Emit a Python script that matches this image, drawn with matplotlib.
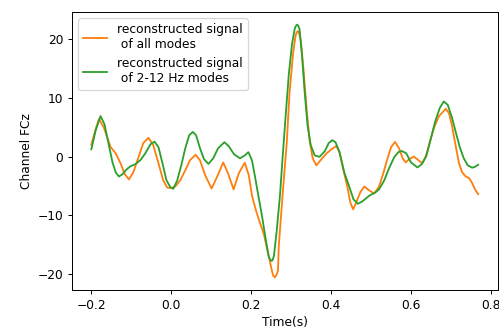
import matplotlib
matplotlib.use("Agg")
import matplotlib.pyplot as plt

# time axis (s) and signal values
t_all = [-0.200, -0.190, -0.181, -0.169, -0.152, -0.139, -0.127, -0.117, -0.106, -0.095,
         -0.082, -0.070, -0.057, -0.045, -0.032, -0.020, -0.010, 0.000, 0.010, 0.022,
         0.035, 0.047, 0.061, 0.072, 0.085, 0.101, 0.115, 0.130, 0.142, 0.156,
         0.169, 0.184, 0.194, 0.202, 0.212, 0.222, 0.232, 0.242, 0.252, 0.255, 0.259,
         0.263, 0.267, 0.269, 0.280, 0.289, 0.296, 0.305, 0.311, 0.314, 0.317, 0.320, 0.324, 0.331,
         0.339, 0.346, 0.354, 0.363, 0.374, 0.388, 0.401, 0.413, 0.421, 0.431,
         0.441, 0.448, 0.455, 0.463, 0.473, 0.483, 0.496, 0.508, 0.520, 0.530,
         0.540, 0.550, 0.560, 0.570, 0.579, 0.587, 0.595, 0.607, 0.618, 0.628,
         0.638, 0.648, 0.658, 0.670, 0.687, 0.695, 0.702, 0.712, 0.720, 0.728,
         0.737, 0.745, 0.752, 0.760, 0.768]
all_modes = [2.0, 4.5, 6.4, 5.0, 1.65, 0.55, -1.15, -2.9, -3.9, -2.7,
             -0.1, 2.3, 3.2, 1.95, -1.15, -4.1, -5.3, -5.35, -5.1, -4.1,
             -2.35, -0.6, 0.3, -0.65, -3.2, -5.45, -3.4, -1.0, -2.85, -5.6,
             -2.85, -1.05, -3.2, -6.65, -9.2, -11.3, -13.3, -16.4, -19.5, -20.3, -20.6,
             -20.2, -19.5, -15.3, -5.3, 2.3, 10.9, 17.7, 20.6, 21.2, 21.4, 21.0, 19.9, 14.8,
             7.9, 2.8, -0.3, -1.5, -0.6, 0.5, 1.25, 1.8, 0.75, -2.35,
             -5.25, -7.8, -9.0, -7.8, -6.1, -5.1, -5.8, -6.3, -5.1, -3.0,
             -0.6, 1.6, 2.5, 1.4, -0.3, -1.0, -0.45, 0.0, -0.6, -1.15,
             0.2, 2.8, 5.0, 6.9, 8.15, 7.4, 5.4, 1.75, -1.15, -2.7,
             -3.4, -3.65, -4.4, -5.6, -6.4]

t_band = [-0.200, -0.189, -0.177, -0.167, -0.156, -0.147, -0.139, -0.131, -0.122, -0.112,
          -0.102, -0.090, -0.077, -0.065, -0.052, -0.042, -0.032, -0.022, -0.012, -0.002,
          0.005, 0.015, 0.025, 0.035, 0.045, 0.054, 0.062, 0.072, 0.082, 0.093,
          0.105, 0.117, 0.133, 0.144, 0.157, 0.172, 0.184, 0.193, 0.202, 0.209,
          0.217, 0.227, 0.237, 0.244, 0.248, 0.251, 0.254, 0.257, 0.264, 0.272, 0.279, 0.287,
          0.294, 0.302, 0.309, 0.312, 0.315, 0.318, 0.321, 0.327, 0.334, 0.341, 0.349, 0.359,
          0.371, 0.384, 0.394, 0.403, 0.411, 0.421, 0.433, 0.446, 0.456, 0.467,
          0.478, 0.496, 0.511, 0.520, 0.533, 0.545, 0.558, 0.568, 0.577, 0.588,
          0.600, 0.616, 0.627, 0.638, 0.648, 0.660, 0.672, 0.682, 0.692, 0.702,
          0.712, 0.722, 0.732, 0.742, 0.753, 0.760, 0.768]
band_modes = [1.25, 4.5, 6.9, 5.5, 1.9, -1.0, -2.7, -3.4, -3.0, -2.2,
              -1.65, -1.3, -0.6, 0.55, 2.1, 2.55, 1.6, -1.15, -4.05, -5.25,
              -5.5, -4.05, -1.5, 1.4, 3.65, 4.2, 3.65, 1.4, -0.45, -1.25,
              -0.3, 1.4, 2.45, 1.75, 0.4, -0.3, 0.2, 0.75, -0.65, -3.2,
              -6.3, -10.1, -14.4, -17.1, -17.6, -17.8, -17.6, -16.9, -12.6, -6.65, 0.2, 7.6,
              13.9, 19.1, 21.8, 22.3, 22.5, 22.3, 21.7, 17.4, 10.85, 5.35, 1.95, 0.2,
              -0.05, 0.9, 2.3, 2.8, 2.45, 0.75, -2.7, -5.25, -7.3, -8.05,
              -7.65, -6.65, -6.1, -5.6, -4.05, -2.0, -0.1, 0.75, 0.95, 0.55,
              -1.0, -1.85, -1.3, 0.05, 2.6, 5.9, 8.3, 9.4, 8.8, 6.75,
              4.15, 1.6, -0.3, -1.5, -1.9, -1.75, -1.4]

labels = ["reconstructed signal\n of all modes", "reconstructed signal\n of 2-12 Hz modes"]

DPI = 72 * 1.22
fig = plt.figure(figsize=(499 / DPI, 329 / DPI), dpi=DPI)
ax = fig.add_axes([72 / 499, 1 - 290 / 329, 425.5 / 499, 278 / 329])
ax.plot(t_all, all_modes, color="C1", label=labels[0])
ax.plot(t_band, band_modes, color="C2", label=labels[1])
ax.set_xlabel("Time(s)")
ax.set_ylabel("Channel FCz")
ax.legend(loc="upper left")
fig.savefig("out.png", dpi=DPI)
